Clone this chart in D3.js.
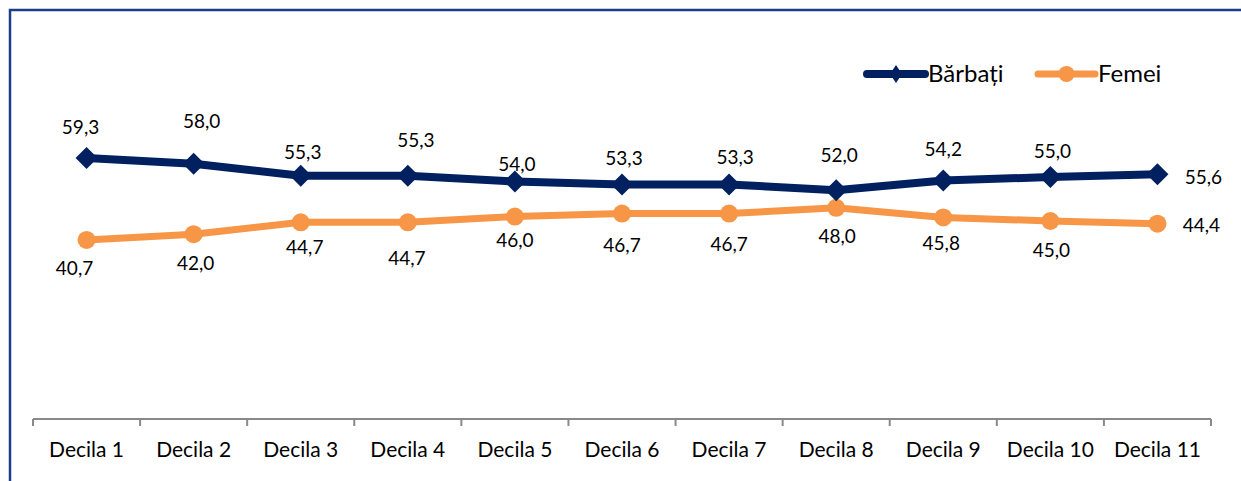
<!DOCTYPE html>
<html>
<head>
<meta charset="utf-8">
<script src="https://cdn.jsdelivr.net/npm/d3@7"></script>
<style>
  html, body { margin: 0; padding: 0; background: #fff; overflow: hidden; }
  svg { display: block; font-family: Lato, "Open Sans", sans-serif; }
</style>
</head>
<body>
<svg id="chart" width="1241" height="481"></svg>
<script>
// ---- data ----
const categories = ["Decila 1","Decila 2","Decila 3","Decila 4","Decila 5","Decila 6","Decila 7","Decila 8","Decila 9","Decila 10","Decila 11"];
const barbati = [59.3, 58.0, 55.3, 55.3, 54.0, 53.3, 53.3, 52.0, 54.2, 55.0, 55.6];
const femei   = [40.7, 42.0, 44.7, 44.7, 46.0, 46.7, 46.7, 48.0, 45.8, 45.0, 44.4];
const seriesNames = ["Bărbați", "Femei"];

// label placement offsets (layout, not data)
const offM = [[-6,-32],[8,-43],[2,-24],[8,-36],[2,-18],[2,-27],[6,-28],[3,-36],[0,-32],[2,-27],[46,2]];
const offF = [[-12,28],[2,28],[4,24],[-1,35],[0,23],[0,31],[0,30],[1,28],[-2,25],[1,28],[44,1]];

const navy = "#002060", orange = "#F79646";
const svg = d3.select("#chart");

// outer frame
svg.append("path")
  .attr("d", "M10,481 L10,10 L1241,10")
  .attr("fill", "none").attr("stroke", "#1F3C88").attr("stroke-width", 2.5);

const x = d3.scaleBand().domain(categories).range([33, 1211]).padding(0);
const y = d3.scaleLinear().domain([0, 80]).range([419, 67]);
const cx = d => x(d) + x.bandwidth() / 2;

// axis
const axisG = svg.append("g").attr("transform", "translate(0,419)");
axisG.call(d3.axisBottom(x).tickSize(0).tickPadding(0))
  .call(g => g.select(".domain").remove())
  .call(g => g.selectAll("text")
      .attr("y", 38).attr("dy", 0)
      .attr("font-family", "Lato, sans-serif")
      .attr("font-size", 21).attr("fill", "#000"));
axisG.append("line").attr("x1", x.range()[0]).attr("x2", x.range()[1])
  .attr("y1", 0).attr("y2", 0).attr("stroke", "#898989").attr("stroke-width", 2);
const edges = categories.map(d => x(d)).concat([x.range()[1]]);
axisG.selectAll("line.tk").data(edges).join("line").attr("class", "tk")
  .attr("x1", d => d).attr("x2", d => d).attr("y1", 0).attr("y2", 7)
  .attr("stroke", "#898989").attr("stroke-width", 2);

// lines
const line = d3.line().x(d => cx(d.c)).y(d => y(d.v));
const mData = categories.map((c, i) => ({c, v: barbati[i], i}));
const fData = categories.map((c, i) => ({c, v: femei[i], i}));

svg.append("path").datum(fData).attr("d", line).attr("fill", "none")
  .attr("stroke", orange).attr("stroke-width", 7).attr("stroke-linejoin", "round");
svg.append("path").datum(mData).attr("d", line).attr("fill", "none")
  .attr("stroke", navy).attr("stroke-width", 8).attr("stroke-linejoin", "round");

// markers
svg.selectAll("circle.f").data(fData).join("circle").attr("class", "f")
  .attr("cx", d => cx(d.c)).attr("cy", d => y(d.v)).attr("r", 9).attr("fill", orange);
const dia = (s) => `M0,${-s}L${s},0L0,${s}L${-s},0Z`;
svg.selectAll("path.m").data(mData).join("path").attr("class", "m")
  .attr("transform", d => `translate(${cx(d.c)},${y(d.v)})`)
  .attr("d", dia(11)).attr("fill", navy);

// data labels
const fmt = v => d3.format(".1f")(v).replace(".", ",");
svg.selectAll("text.lm").data(mData).join("text").attr("class", "lm")
  .attr("x", d => cx(d.c) + offM[d.i][0]).attr("y", d => y(d.v) + offM[d.i][1])
  .attr("text-anchor", "middle").attr("dominant-baseline", "central")
  .attr("font-size", 19).attr("fill", "#000").text(d => fmt(d.v));
svg.selectAll("text.lf").data(fData).join("text").attr("class", "lf")
  .attr("x", d => cx(d.c) + offF[d.i][0]).attr("y", d => y(d.v) + offF[d.i][1])
  .attr("text-anchor", "middle").attr("dominant-baseline", "central")
  .attr("font-size", 19).attr("fill", "#000").text(d => fmt(d.v));

// legend
const leg = svg.append("g");
const legItems = [
  {name: seriesNames[0], color: navy, x0: 867, x1: 925, tx: 928, w: 8, marker: "d"},
  {name: seriesNames[1], color: orange, x0: 1038, x1: 1095, tx: 1098, w: 7, marker: "c"}
];
legItems.forEach(it => {
  leg.append("line").attr("x1", it.x0).attr("x2", it.x1).attr("y1", 74).attr("y2", 74)
    .attr("stroke", it.color).attr("stroke-width", it.w).attr("stroke-linecap", "round");
  const mx = (it.x0 + it.x1) / 2;
  if (it.marker === "d") {
    leg.append("path").attr("d", "M0,-9L6,0L0,9L-6,0Z")
      .attr("transform", `translate(${mx},74)`).attr("fill", it.color);
  } else {
    leg.append("circle").attr("cx", mx).attr("cy", 74).attr("r", 8).attr("fill", it.color);
  }
  leg.append("text").attr("x", it.tx).attr("y", 82).attr("font-size", 24)
    .attr("fill", "#000").text(it.name);
});
</script>
</body>
</html>
